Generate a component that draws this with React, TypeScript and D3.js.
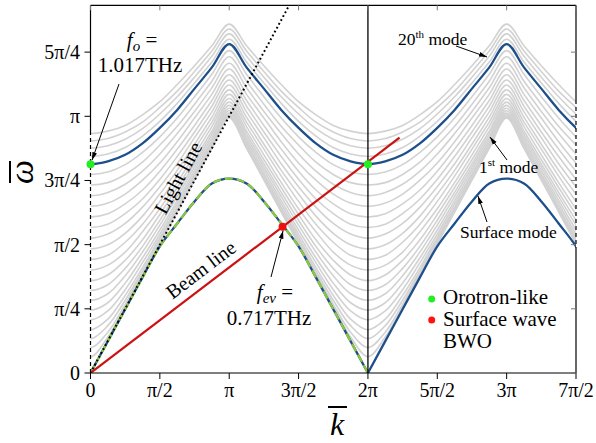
import React from "react";
import * as d3 from "d3";

const PI = Math.PI;

// k̄ samples over one half Brillouin zone [0, π]; curves are symmetric about π and periodic in 2π
const kSamples = [0, PI / 8, PI / 4, (3 * PI) / 8, PI / 2, (5 * PI) / 8, (3 * PI) / 4, (7 * PI) / 8, PI];

// ω̄ of the higher-order modes at kSamples (mode 1 .. mode 24)
const modes: number[][] = [
  [0.20, 0.44, 0.81, 1.20, 1.58, 1.97, 2.36, 2.75, 3.12],
  [0.31, 0.50, 0.84, 1.22, 1.60, 1.99, 2.38, 2.76, 3.13],
  [0.42, 0.58, 0.89, 1.25, 1.63, 2.01, 2.39, 2.77, 3.145],
  [0.53, 0.66, 0.95, 1.29, 1.66, 2.03, 2.42, 2.79, 3.16],
  [0.65, 0.76, 1.02, 1.35, 1.70, 2.07, 2.44, 2.815, 3.18],
  [0.77, 0.86, 1.10, 1.41, 1.75, 2.11, 2.48, 2.845, 3.21],
  [0.89, 0.97, 1.19, 1.48, 1.81, 2.16, 2.52, 2.88, 3.24],
  [1.01, 1.08, 1.28, 1.55, 1.87, 2.21, 2.56, 2.92, 3.275],
  [1.13, 1.20, 1.38, 1.63, 1.94, 2.27, 2.61, 2.96, 3.315],
  [1.26, 1.32, 1.48, 1.73, 2.01, 2.33, 2.67, 3.015, 3.36],
  [1.39, 1.44, 1.60, 1.82, 2.10, 2.41, 2.74, 3.07, 3.41],
  [1.52, 1.57, 1.71, 1.92, 2.19, 2.48, 2.80, 3.13, 3.465],
  [1.65, 1.70, 1.83, 2.03, 2.28, 2.56, 2.88, 3.195, 3.525],
  [1.78, 1.82, 1.95, 2.13, 2.37, 2.65, 2.95, 3.265, 3.585],
  [1.91, 1.95, 2.07, 2.24, 2.47, 2.74, 3.03, 3.335, 3.65],
  [2.04, 2.08, 2.19, 2.36, 2.57, 2.83, 3.12, 3.41, 3.72],
  [2.17, 2.21, 2.31, 2.47, 2.68, 2.93, 3.20, 3.49, 3.79],
  [2.30, 2.33, 2.43, 2.58, 2.79, 3.02, 3.29, 3.57, 3.87],
  [2.43, 2.46, 2.55, 2.70, 2.89, 3.12, 3.38, 3.655, 3.945],
  [2.556, 2.59, 2.67, 2.81, 3.00, 3.22, 3.48, 3.74, 4.025],
  [2.65, 2.68, 2.76, 2.90, 3.08, 3.30, 3.55, 3.805, 4.085],
  [2.75, 2.78, 2.86, 2.99, 3.17, 3.38, 3.62, 3.875, 4.15],
  [2.84, 2.87, 2.95, 3.07, 3.25, 3.45, 3.69, 3.94, 4.21],
  [2.93, 2.96, 3.03, 3.16, 3.32, 3.53, 3.76, 4.005, 4.27],
];
const highlightedMode = 20;

// surface (fundamental) mode at kSamples
const surfaceMode = [0, 0.39, 0.78, 1.17, 1.55, 1.83, 2.1, 2.32, 2.38];

const xTickValues = [0, PI / 2, PI, (3 * PI) / 2, 2 * PI, (5 * PI) / 2, 3 * PI, (7 * PI) / 2];
const xTickLabels = ["0", "π/2", "π", "3π/2", "2π", "5π/2", "3π", "7π/2"];
const yTickValues = [0, PI / 4, PI / 2, (3 * PI) / 4, PI, (5 * PI) / 4];
const yTickLabels = ["0", "π/4", "π/2", "3π/4", "π", "5π/4"];

const lightLine: [number, number][] = [[0, 0], [4.7, 4.7]];
const beamLine: [number, number][] = [[0, 0], [7.0, 2.88]];
const orotronPoints: [number, number][] = [[0, 2.556], [2 * PI, 2.556]];
const bwoPoints: [number, number][] = [[4.35, 1.79]];

const legendItems = ["Orotron-like", "Surface wave", "BWO"];
const legendColors = ["#22ee22", "#ff1111", null];

const W = 596;
const H = 443;
const L = 90.5, R = 576, T = 5.3, B = 373;
const x = d3.scaleLinear().domain([0, 3.5 * PI]).range([L, R]);
const y = d3.scaleLinear().domain([0, 4.5]).range([B, T]);

function unfold(vals: number[], kMin: number, kMax: number): [number, number][] {
  const pts: [number, number][] = [];
  for (let n = -1; n <= 2; n++) {
    const b = 2 * PI * n;
    kSamples.forEach((k, i) => {
      pts.push([b + k, vals[i]]);
      pts.push([b + 2 * PI - k, vals[i]]);
    });
  }
  pts.sort((a, c) => a[0] - c[0]);
  const out: [number, number][] = [];
  for (const p of pts) {
    if (p[0] < kMin - 1e-9 || p[0] > kMax + 1e-9) continue;
    if (out.length && Math.abs(out[out.length - 1][0] - p[0]) < 1e-6) continue;
    out.push(p);
  }
  return out;
}

const line = d3
  .line<[number, number]>()
  .x((d) => x(d[0]))
  .y((d) => y(d[1]))
  .curve(d3.curveCatmullRom.alpha(0.5));
const straight = d3
  .line<[number, number]>()
  .x((d) => x(d[0]))
  .y((d) => y(d[1]));

const BLUE = "#1d4f8b";
const GRAY = "#d2d2d2";

export default function App() {
  const kLo = -PI / 4;
  const kHi = 3.5 * PI + PI / 4;
  const surfSeg0 = unfold(surfaceMode, 0, 2 * PI);
  const surfSeg1 = unfold(surfaceMode, 2 * PI, 4 * PI);

  return (
    <svg
      width={W}
      height={H}
      style={{ position: "absolute", left: 0, top: 0, background: "#fff" }}
    >
      <style>{`text, tspan { font-family: "Liberation Serif", "Times New Roman", "DejaVu Serif", serif; }`}</style>
      <defs>
        <clipPath id="plot">
          <rect x={L} y={T} width={R - L} height={B - T} />
        </clipPath>
        <marker id="ah" viewBox="0 0 10 10" refX="10" refY="5" markerWidth="8" markerHeight="8" orient="auto">
          <path d="M0,2 L10,5 L0,8 z" fill="#000" />
        </marker>
      </defs>
      <rect x={0} y={0} width={W} height={H} fill="#fff" />

      <g clipPath="url(#plot)">
        {modes.map((m, i) =>
          i + 1 === highlightedMode ? null : (
            <path key={i} d={line(unfold(m, kLo, kHi)) || ""} fill="none" stroke={GRAY} strokeWidth={1.6} />
          )
        )}
        <path
          d={line(unfold(modes[highlightedMode - 1], kLo, kHi)) || ""}
          fill="none"
          stroke={BLUE}
          strokeWidth={2.3}
        />
        <path d={line(surfSeg0) || ""} fill="none" stroke={BLUE} strokeWidth={2.3} />
        <path d={line(surfSeg1) || ""} fill="none" stroke={BLUE} strokeWidth={2.3} />
        <path d={line(surfSeg0) || ""} fill="none" stroke="#8cc63f" strokeWidth={2.3} strokeDasharray="8 4" />
        <path d={straight(lightLine) || ""} fill="none" stroke="#000" strokeWidth={2} strokeDasharray="1.8 2.6" />
        <path d={straight(beamLine) || ""} fill="none" stroke="#cc1111" strokeWidth={2.2} />
      </g>

      {/* frame */}
      <line x1={L} y1={T} x2={R} y2={T} stroke="#000" strokeWidth={1.2} />
      <line x1={L} y1={B} x2={R} y2={B} stroke="#000" strokeWidth={1.2} />
      <line x1={L} y1={T} x2={L} y2={131} stroke="#000" strokeWidth={1.2} />
      <line x1={L} y1={131} x2={L} y2={B} stroke="#000" strokeWidth={1.2} strokeDasharray="4 3" />
      <line x1={R} y1={T} x2={R} y2={100} stroke="#000" strokeWidth={1.2} />
      <line x1={R} y1={100} x2={R} y2={250} stroke="#000" strokeWidth={1.2} strokeDasharray="4 3" />
      <line x1={R} y1={250} x2={R} y2={B} stroke="#000" strokeWidth={1.2} />
      <line x1={x(2 * PI)} y1={T} x2={x(2 * PI)} y2={B} stroke="#000" strokeWidth={1.3} />

      {/* ticks */}
      {xTickValues.map((v, i) => (
        <g key={"xt" + i}>
          <line x1={x(v)} y1={B} x2={x(v)} y2={B + 6} stroke="#000" strokeWidth={1} />
          <line x1={x(v)} y1={T} x2={x(v)} y2={T + 5} stroke="#777" strokeWidth={1} />
          <text x={x(v)} y={397} textAnchor="middle" fontSize={20}>
            {xTickLabels[i]}
          </text>
        </g>
      ))}
      {yTickValues.map((v, i) => (
        <g key={"yt" + i}>
          <line x1={L - 6} y1={y(v)} x2={L} y2={y(v)} stroke="#000" strokeWidth={1} />
          <line x1={R - 5} y1={y(v)} x2={R} y2={y(v)} stroke="#777" strokeWidth={1} />
          <text x={80} y={y(v)} dy="0.35em" textAnchor="end" fontSize={20}>
            {yTickLabels[i]}
          </text>
        </g>
      ))}

      {/* axis titles */}
      <text x={337} y={435} textAnchor="middle" fontSize={32} fontStyle="italic">
        k
      </text>
      <line x1={328} y1={407} x2={347} y2={407} stroke="#000" strokeWidth={2} />
      <g transform="translate(33,172) rotate(-90)">
        <text x={0} y={0} textAnchor="middle" fontSize={34} fontStyle="italic">
          ω
        </text>
        <line x1={-11} y1={-23} x2={11} y2={-23} stroke="#000" strokeWidth={2} />
      </g>

      {/* points */}
      {orotronPoints.map((p, i) => (
        <circle key={"o" + i} cx={x(p[0])} cy={y(p[1])} r={4} fill="#22ee22" />
      ))}
      {bwoPoints.map((p, i) => (
        <circle key={"b" + i} cx={x(p[0])} cy={y(p[1])} r={4} fill="#ee1111" />
      ))}

      {/* annotations */}
      <text x={142} y={47} textAnchor="middle" fontSize={21}>
        <tspan fontStyle="italic">f</tspan>
        <tspan fontStyle="italic" fontSize={15} dy={4}>o</tspan>
        <tspan dy={-4}> =</tspan>
      </text>
      <text x={140} y={72} textAnchor="middle" fontSize={21}>1.017THz</text>
      <line x1={119} y1={84} x2={x(0) + 1.5} y2={y(2.556) - 4} stroke="#000" strokeWidth={1} markerEnd="url(#ah)" />

      <text x={275} y={299} textAnchor="middle" fontSize={21}>
        <tspan fontStyle="italic">f</tspan>
        <tspan fontStyle="italic" fontSize={15} dy={4}>ev</tspan>
        <tspan dy={-4}> =</tspan>
      </text>
      <text x={269} y={325} textAnchor="middle" fontSize={21}>0.717THz</text>
      <line x1={271} y1={277} x2={x(4.35) + 0.5} y2={y(1.79) + 4} stroke="#000" strokeWidth={1} markerEnd="url(#ah)" />

      <text transform="translate(184,181) rotate(-61.6)" textAnchor="middle" fontSize={20}>
        Light line
      </text>
      <text transform="translate(205,275) rotate(-37.3)" textAnchor="middle" fontSize={20}>
        Beam line
      </text>

      <text x={398} y={45} fontSize={17.5}>
        20<tspan fontSize={11} dy={-7}>th</tspan>
        <tspan dy={7}> mode</tspan>
      </text>
      <line x1={456} y1={46} x2={487} y2={57} stroke="#000" strokeWidth={1} markerEnd="url(#ah)" />
      <text x={479} y={173} fontSize={17.5}>
        1<tspan fontSize={11} dy={-7}>st</tspan>
        <tspan dy={7}> mode</tspan>
      </text>
      <line x1={507} y1={160} x2={490} y2={137} stroke="#000" strokeWidth={1} markerEnd="url(#ah)" />
      <text x={460} y={238} fontSize={17.5}>Surface mode</text>
      <line x1={487} y1={222} x2={478} y2={196} stroke="#000" strokeWidth={1} markerEnd="url(#ah)" />

      {/* legend */}
      {legendItems.map((t, i) => (
        <g key={"lg" + i}>
          {legendColors[i] ? <circle cx={431.7} cy={299 + i * 21} r={3.5} fill={legendColors[i] as string} /> : null}
          <text x={443} y={304 + i * 22} fontSize={21}>
            {t}
          </text>
        </g>
      ))}
    </svg>
  );
}
